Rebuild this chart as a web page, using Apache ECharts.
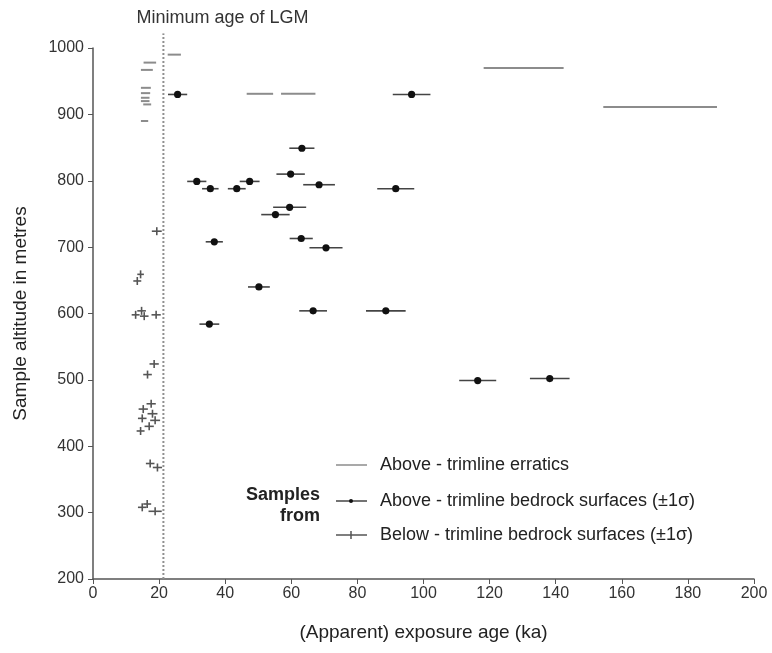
<!DOCTYPE html>
<html>
<head>
<meta charset="utf-8">
<title>Exposure ages</title>
<script src="https://cdn.jsdelivr.net/npm/echarts@6/dist/echarts.min.js"></script>
<style>
  html, body { margin: 0; padding: 0; background: #fff; }
  #chart { width: 772px; height: 653px; }
</style>
</head>
<body>
<div id="chart"></div>
<script>
// 数据：年龄(ka)、误差(ka)、海拔(m)
var lgmAge = 21.3;

var erraticAge = [24.6, 17.2, 16.3, 16.0, 15.9, 15.8, 15.8, 16.4, 15.6, 50.5, 62.1, 130.3, 171.6];
var erraticErr = [2.0, 1.9, 1.8, 1.5, 1.4, 1.3, 1.3, 1.2, 1.1, 4.0, 5.2, 12.1, 17.2];
var erraticAlt = [990, 978, 967, 940, 932, 925, 920, 915, 890, 931, 931, 970, 911];

var aboveAge = [25.6, 96.4, 63.2, 31.4, 35.5, 43.5, 47.4, 59.8, 68.4, 59.5, 55.2, 36.7, 63.0, 70.5, 50.2, 66.6, 35.2, 91.6, 88.6, 116.4, 138.2];
var aboveErr = [2.9, 5.7, 3.8, 2.9, 2.5, 2.7, 3.0, 4.3, 4.8, 5.0, 4.3, 2.6, 3.5, 5.0, 3.3, 4.2, 3.0, 5.6, 6.0, 5.6, 6.0];
var aboveAlt = [930, 930, 849, 799, 788, 788, 799, 810, 794, 760, 749, 708, 713, 699, 640, 604, 584, 788, 604, 499, 502];

var belowAge = [19.3, 14.4, 13.4, 12.9, 14.7, 15.5, 19.1, 18.5, 16.5, 17.6, 15.2, 18.0, 14.9, 18.8, 17.0, 14.4, 17.3, 19.5, 14.9, 16.4, 18.8];
var belowErr = [1.5, 1.0, 1.2, 1.2, 1.3, 1.3, 1.4, 1.4, 1.3, 1.4, 1.4, 1.5, 1.3, 1.5, 1.4, 1.2, 1.3, 1.4, 1.3, 1.2, 2.0];
var belowAlt = [724, 659, 649, 598, 604, 596, 598, 524, 508, 464, 456, 449, 442, 439, 430, 423, 374, 368, 308, 313, 302];

var xTicks = { min: 0, max: 200, interval: 20 };
var yTicks = { min: 200, max: 1000, interval: 100 };

function rows(age, err, alt){
  var out = [];
  for(var i=0;i<age.length;i++){
    out.push([age[i], err[i], alt[i]]);
  }
  return out;
}

var FONT = '"Liberation Sans", Arial, sans-serif';
var TXT = '18px ' + FONT;

var myChart = echarts.init(document.getElementById('chart'));

var option = {
  animation: false,
  backgroundColor: '#fff',
  textStyle: { fontFamily: FONT },
  grid: { left: 93, right: 18, top: 48, bottom: 74 },
  xAxis: {
    type: 'value',
    min: xTicks.min, max: xTicks.max, interval: xTicks.interval,
    name: '(Apparent) exposure age (ka)',
    nameLocation: 'middle',
    nameGap: 44,
    nameTextStyle: { fontSize: 19, color: '#222', fontFamily: FONT },
    axisLine: { lineStyle: { color: '#555', width: 1.5 } },
    axisTick: { length: 5, lineStyle: { color: '#555' } },
    axisLabel: { fontSize: 16, color: '#333', margin: 7, fontFamily: FONT },
    splitLine: { show: false }
  },
  yAxis: {
    type: 'value',
    min: yTicks.min, max: yTicks.max, interval: yTicks.interval,
    name: 'Sample altitude in metres',
    nameLocation: 'middle',
    nameGap: 63,
    nameTextStyle: { fontSize: 19, color: '#222', fontFamily: FONT },
    axisLine: { show: true, lineStyle: { color: '#555', width: 1.5 } },
    axisTick: { show: true, length: 5, lineStyle: { color: '#555' } },
    axisLabel: { fontSize: 16, color: '#333', margin: 9, fontFamily: FONT, formatter: function(v){ return String(v); } },
    splitLine: { show: false }
  },
  series: [
    {
      // LGM 虚线
      type: 'custom',
      clip: false,
      data: [[lgmAge]],
      renderItem: function(params, api){
        var p0 = api.coord([api.value(0), yTicks.min]);
        var p1 = api.coord([api.value(0), 1022]);
        return {
          type: 'group',
          children: [
            {
              type: 'line',
              shape: { x1: p0[0], y1: p0[1], x2: p1[0], y2: p1[1] },
              style: { stroke: '#909090', lineWidth: 2, lineDash: [2, 2] }
            },
            {
              type: 'text',
              x: p1[0] - 27,
              y: p1[1] - 15,
              style: { text: 'Minimum age of LGM', fill: '#333', font: TXT, textVerticalAlign: 'middle' }
            }
          ]
        };
      }
    },
    {
      // 漂砾
      type: 'custom',
      data: rows(erraticAge, erraticErr, erraticAlt),
      renderItem: function(params, api){
        var a = api.coord([api.value(0) - api.value(1), api.value(2)]);
        var b = api.coord([api.value(0) + api.value(1), api.value(2)]);
        return {
          type: 'line',
          shape: { x1: a[0], y1: a[1], x2: b[0], y2: b[1] },
          style: { stroke: '#8c8c8c', lineWidth: 2 }
        };
      }
    },
    {
      // 修剪线以上基岩
      type: 'custom',
      data: rows(aboveAge, aboveErr, aboveAlt),
      renderItem: function(params, api){
        var c = api.coord([api.value(0), api.value(2)]);
        var a = api.coord([api.value(0) - api.value(1), api.value(2)]);
        var b = api.coord([api.value(0) + api.value(1), api.value(2)]);
        return {
          type: 'group',
          children: [
            {
              type: 'line',
              shape: { x1: a[0], y1: a[1], x2: b[0], y2: b[1] },
              style: { stroke: '#444', lineWidth: 1.6 }
            },
            {
              type: 'circle',
              shape: { cx: c[0], cy: c[1], r: 3.6 },
              style: { fill: '#111' }
            }
          ]
        };
      }
    },
    {
      // 修剪线以下基岩
      type: 'custom',
      data: rows(belowAge, belowErr, belowAlt),
      renderItem: function(params, api){
        var c = api.coord([api.value(0), api.value(2)]);
        var a = api.coord([api.value(0) - api.value(1), api.value(2)]);
        var b = api.coord([api.value(0) + api.value(1), api.value(2)]);
        return {
          type: 'group',
          children: [
            {
              type: 'line',
              shape: { x1: a[0], y1: a[1], x2: b[0], y2: b[1] },
              style: { stroke: '#555', lineWidth: 1.6 }
            },
            {
              type: 'line',
              shape: { x1: c[0], y1: c[1] - 4, x2: c[0], y2: c[1] + 4 },
              style: { stroke: '#555', lineWidth: 1.6 }
            }
          ]
        };
      }
    }
  ],
  graphic: [
    { type: 'text', x: 320, y: 495, style: { text: 'Samples', fill: '#222', font: 'bold ' + TXT, textAlign: 'right', textVerticalAlign: 'middle' } },
    { type: 'text', x: 320, y: 516, style: { text: 'from', fill: '#222', font: 'bold ' + TXT, textAlign: 'right', textVerticalAlign: 'middle' } },
    { type: 'line', shape: { x1: 336, y1: 465, x2: 367, y2: 465 }, style: { stroke: '#8c8c8c', lineWidth: 1.5 } },
    { type: 'line', shape: { x1: 336, y1: 501, x2: 367, y2: 501 }, style: { stroke: '#444', lineWidth: 1.5 } },
    { type: 'circle', shape: { cx: 351, cy: 501, r: 2 }, style: { fill: '#111' } },
    { type: 'line', shape: { x1: 336, y1: 535, x2: 367, y2: 535 }, style: { stroke: '#555', lineWidth: 1.5 } },
    { type: 'line', shape: { x1: 351, y1: 531, x2: 351, y2: 539 }, style: { stroke: '#555', lineWidth: 1.5 } },
    { type: 'text', x: 380, y: 465, style: { text: 'Above - trimline erratics', fill: '#222', font: TXT, textVerticalAlign: 'middle' } },
    { type: 'text', x: 380, y: 501, style: { text: 'Above - trimline bedrock surfaces (±1σ)', fill: '#222', font: TXT, textVerticalAlign: 'middle' } },
    { type: 'text', x: 380, y: 535, style: { text: 'Below - trimline bedrock surfaces (±1σ)', fill: '#222', font: TXT, textVerticalAlign: 'middle' } }
  ]
};

myChart.setOption(option);

window.addEventListener('resize', function(){
  if(myChart){
    myChart.resize();
  }
});
</script>
</body>
</html>
